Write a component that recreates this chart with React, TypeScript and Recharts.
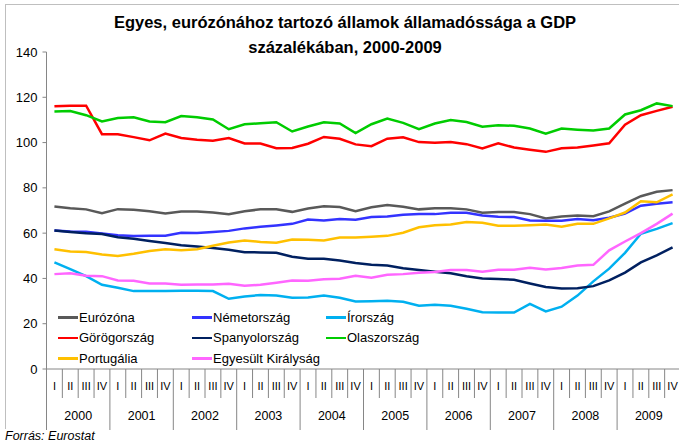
import React from 'react'
import { Line, LineChart, XAxis, YAxis } from 'recharts'

const YEARS = ['2000', '2001', '2002', '2003', '2004', '2005', '2006', '2007', '2008', '2009']
const QUARTERS = ['I', 'II', 'III', 'IV']
const Y_TICKS = [0, 20, 40, 60, 80, 100, 120, 140]

const eurozona = [71.8, 71.0, 70.5, 68.8, 70.6, 70.3, 69.7, 68.7, 69.6, 69.6, 69.1, 68.4, 69.7, 70.5, 70.5, 69.4, 70.9, 71.9, 71.5, 69.7, 71.4, 72.4, 71.7, 70.5, 71.0, 71.0, 70.5, 69.0, 69.3, 69.3, 68.4, 66.5, 67.4, 67.8, 67.5, 69.6, 73.0, 76.3, 78.3, 79.0]
const nemetorszag = [61.2, 60.7, 60.6, 59.9, 59.1, 58.7, 58.8, 58.9, 60.2, 60.1, 60.5, 61.0, 62.1, 62.8, 63.4, 64.1, 66.0, 65.6, 66.2, 65.9, 67.1, 67.4, 68.1, 68.4, 68.4, 69.0, 69.0, 67.8, 67.2, 67.1, 65.6, 65.5, 65.5, 66.2, 65.7, 66.8, 68.6, 72.1, 73.0, 73.6]
const irorszag = [47.1, 44.1, 41.0, 37.2, 35.9, 34.4, 34.5, 34.5, 34.6, 34.6, 34.4, 31.0, 32.0, 32.7, 32.5, 31.5, 31.6, 32.5, 31.5, 29.8, 29.9, 30.1, 29.7, 27.9, 28.4, 27.9, 26.6, 25.1, 25.0, 24.9, 28.8, 25.4, 27.5, 32.4, 38.7, 44.3, 51.3, 59.7, 61.9, 64.4]
const gorogorszag = [116.0, 116.3, 116.3, 103.7, 103.7, 102.4, 101.0, 104.0, 102.0, 101.2, 100.8, 102.0, 99.6, 99.6, 97.5, 97.6, 99.5, 102.5, 101.7, 99.2, 98.4, 101.7, 102.3, 100.2, 99.9, 100.2, 99.3, 97.4, 99.7, 97.8, 96.8, 95.9, 97.5, 97.8, 98.7, 99.7, 107.9, 112.1, 114.0, 115.8]
const spanyolorszag = [61.2, 60.5, 59.9, 59.6, 58.2, 57.5, 56.5, 55.6, 54.7, 54.1, 53.4, 52.7, 51.6, 51.5, 51.3, 49.6, 48.7, 48.7, 47.9, 46.8, 46.0, 45.7, 44.5, 43.7, 43.0, 42.3, 41.0, 40.0, 39.7, 39.4, 37.8, 36.2, 35.5, 35.7, 36.6, 39.1, 42.6, 47.1, 50.2, 53.7]
const olaszorszag = [113.7, 113.9, 112.1, 109.3, 110.8, 111.2, 109.3, 109.0, 111.7, 111.2, 110.2, 105.9, 108.1, 108.5, 109.0, 104.9, 107.1, 109.0, 108.4, 104.2, 108.1, 110.6, 108.7, 105.9, 108.4, 110.0, 109.1, 107.0, 107.7, 107.4, 106.2, 103.9, 106.2, 105.7, 105.3, 106.2, 112.4, 114.3, 117.3, 116.1]
const portugalia = [52.9, 51.9, 51.7, 50.6, 49.9, 50.9, 52.1, 52.9, 52.4, 52.9, 54.4, 55.9, 56.8, 56.1, 55.8, 57.2, 57.1, 56.8, 58.1, 58.1, 58.4, 58.8, 60.2, 62.6, 63.5, 63.8, 64.9, 64.6, 63.3, 63.3, 63.5, 63.8, 62.8, 64.1, 64.1, 66.5, 69.1, 74.1, 73.6, 77.1]
const egyesultKiralysag = [41.9, 42.3, 41.2, 41.0, 39.1, 39.0, 37.8, 37.8, 37.2, 37.3, 37.3, 37.6, 36.8, 37.2, 38.1, 39.1, 39.0, 39.6, 39.9, 41.2, 40.3, 41.6, 41.9, 42.5, 42.8, 43.7, 43.7, 43.0, 43.8, 43.8, 44.7, 44.0, 44.6, 45.7, 46.0, 52.4, 56.3, 60.0, 64.1, 68.6]

// legend order (3 columns, row by row)
const SERIES = [
    { key: 'eurozona', name: 'Eurózóna', color: '#595959', values: eurozona },
    { key: 'nemet', name: 'Németország', color: '#3333ff', values: nemetorszag },
    { key: 'ir', name: 'Írország', color: '#00b0f0', values: irorszag },
    { key: 'gorog', name: 'Görögország', color: '#ff0000', values: gorogorszag },
    { key: 'spanyol', name: 'Spanyolország', color: '#002060', values: spanyolorszag },
    { key: 'olasz', name: 'Olaszország', color: '#00cc00', values: olaszorszag },
    { key: 'portugal', name: 'Portugália', color: '#ffc000', values: portugalia },
    { key: 'uk', name: 'Egyesült Királyság', color: '#ff66ff', values: egyesultKiralysag },
]

const data = YEARS.flatMap((year, yi) =>
    QUARTERS.map((q, qi) => {
        const row: Record<string, string | number> = { q, year }
        SERIES.forEach(s => { row[s.key] = s.values[yi * 4 + qi] })
        return row
    })
)

const FONT = '"Liberation Sans", Arial, sans-serif'
const CHART_W = 684
const PLOT_LEFT = 46.5
const PLOT_RIGHT_MARGIN = 3.5
const BW = (CHART_W - PLOT_LEFT - PLOT_RIGHT_MARGIN) / data.length
const AXIS_GRAY = '#868686'

const CategoryTick = (props: any) => {
    const { x, y, payload } = props
    const i = payload.index
    const left = x - BW / 2
    const qi = i % 4
    return (
        <g>
            <line x1={left} y1={y} x2={left} y2={y + (qi === 0 ? 61 : 29)} stroke={AXIS_GRAY} strokeWidth={1} />
            {i === data.length - 1 && (
                <line x1={x + BW / 2} y1={y} x2={x + BW / 2} y2={y + 61} stroke={AXIS_GRAY} strokeWidth={1} />
            )}
            <text x={x} y={y + 21} textAnchor="middle" fontSize={11} fill="#000" fontFamily={FONT}>{payload.value}</text>
            {qi === 1 && (
                <text x={x + BW / 2} y={y + 51} textAnchor="middle" fontSize={12.5} fill="#000" fontFamily={FONT}>
                    {data[i].year}
                </text>
            )}
        </g>
    )
}

const App = () => {
    return (
        <div style={{ position: 'absolute', left: 0, top: 0, width: 679, height: 444, overflow: 'hidden', background: '#fff', fontFamily: FONT }}>
            <div style={{ position: 'absolute', left: 5, top: 4, width: 700, height: 424, borderLeft: '1px solid #bfbfbf', borderTop: '1px solid #bfbfbf' }} />
            <div style={{ position: 'absolute', left: 0, top: 10, width: 690, textAlign: 'center', fontWeight: 'bold', fontSize: 16.5, lineHeight: '25px', color: '#000' }}>
                Egyes, eurózónához tartozó államok államadóssága a GDP<br />százalékában, 2000-2009
            </div>
            <div style={{ position: 'absolute', left: 0, top: 0 }}>
                <LineChart width={CHART_W} height={444} data={data} margin={{ top: 52, right: PLOT_RIGHT_MARGIN, left: 0, bottom: 0 }}>
                    <XAxis dataKey="q" height={75} interval={0} tickLine={false} tickSize={0} tickMargin={0}
                        padding={{ left: BW / 2, right: BW / 2 }}
                        axisLine={{ stroke: AXIS_GRAY }} tick={<CategoryTick />} />
                    <YAxis width={PLOT_LEFT} domain={[0, 140]} ticks={Y_TICKS} tickSize={4} tickMargin={5}
                        axisLine={{ stroke: AXIS_GRAY }} tickLine={{ stroke: AXIS_GRAY }}
                        tick={{ fontSize: 13, fill: '#000', fontFamily: FONT }} />
                    {SERIES.map(s => (
                        <Line key={s.key} type="linear" dataKey={s.key} name={s.name} stroke={s.color}
                            strokeWidth={2.5} dot={false} isAnimationActive={false} />
                    ))}
                </LineChart>
            </div>
            <div style={{ position: 'absolute', left: 58, top: 307, width: 420, display: 'grid', gridTemplateColumns: '134px 134px 134px', rowGap: 0 }}>
                {SERIES.map(s => (
                    <div key={s.key} style={{ display: 'flex', alignItems: 'center', height: 20.5, fontSize: 13, color: '#000', whiteSpace: 'nowrap' }}>
                        <span style={{ display: 'inline-block', width: 20, height: 2.5, background: s.color, marginRight: 1 }} />
                        {s.name}
                    </div>
                ))}
            </div>
            <div style={{ position: 'absolute', left: 5, top: 429, fontSize: 12.5, fontStyle: 'italic', color: '#000' }}>
                Forrás: Eurostat
            </div>
        </div>
    )
}

export default App
